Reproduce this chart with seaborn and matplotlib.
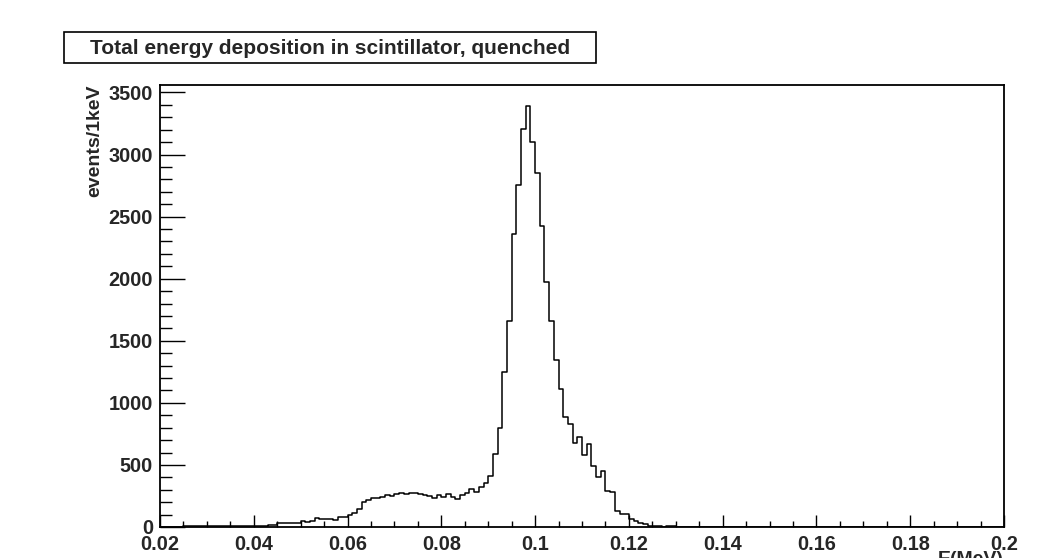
import numpy as np
import pandas as pd
import seaborn as sns
import matplotlib.pyplot as plt
from matplotlib.patches import Rectangle
from matplotlib.ticker import FixedLocator, MultipleLocator

# histogram: 1 keV bins from 0.020 to 0.200 MeV
e_low = 0.02
e_high = 0.2
bin_width = 0.001
counts = [
    2, 2, 2, 2, 2, 6, 6, 6, 6, 6, 6, 6, 10, 10, 10, 6, 6, 6, 8, 8,
    10, 10, 10, 13, 13, 30, 30, 35, 35, 35, 45, 43, 45, 70, 63, 68, 67, 53, 78, 78,
    97, 116, 142, 198, 217, 230, 232, 245, 258, 250, 268, 271, 268, 273, 276, 263, 261, 252, 236, 257,
    239, 265, 244, 223, 260, 276, 303, 284, 324, 356, 410, 585, 799, 1245, 1660, 2357, 2754, 3202, 3389, 3100,
    2853, 2421, 1971, 1660, 1343, 1110, 887, 826, 673, 721, 579, 665, 491, 400, 449, 287, 285, 131, 103, 101,
    68, 45, 35, 22, 10, 5, 6, 4, 11, 10, 3, 3, 2, 0, 0, 0, 0, 0, 0, 0,
    0, 0, 0, 0, 0, 0, 0, 0, 0, 0, 0, 0, 0, 0, 0, 0, 0, 0, 0, 0,
    0, 0, 0, 0, 0, 0, 0, 0, 0, 0, 0, 0, 0, 0, 0, 0, 0, 0, 0, 0,
    0, 0, 0, 0, 0, 0, 0, 0, 0, 0, 0, 0, 0, 0, 0, 0, 0, 0, 0, 0,
]
x_ticks = [0.02, 0.04, 0.06, 0.08, 0.1, 0.12, 0.14, 0.16, 0.18, 0.2]
x_ticklabels = ["0.02", "0.04", "0.06", "0.08", "0.1", "0.12", "0.14", "0.16", "0.18", "0.2"]
y_ticks = [0, 500, 1000, 1500, 2000, 2500, 3000, 3500]
y_ticklabels = ["0", "500", "1000", "1500", "2000", "2500", "3000", "3500"]
title = "Total energy deposition in scintillator, quenched"
xlabel = "E(MeV)"
ylabel = "events/1keV"

edges = np.arange(len(counts) + 1) * bin_width + e_low
df = pd.DataFrame({"E": edges[:-1] + bin_width / 2, "n": counts})

sns.set_theme(style="white")
plt.rcParams['font.family'] = ['Liberation Sans', 'DejaVu Sans']
plt.rcParams['font.weight'] = 'bold'

W, H = 1056, 558
fig = plt.figure(figsize=(W / 100, H / 100), dpi=100)
ax = fig.add_axes([160 / W, 31 / H, 844 / W, 442 / H])

# seaborn trips over a numpy array for bins, so hand it a list
sns.histplot(data=df, x="E", weights="n", bins=list(edges), element="step", fill=False,
             color="black", linewidth=1.1, ax=ax)

ax.set_xlim(e_low, e_high)
ax.set_ylim(0, 3560)
ax.set_xlabel("")
ax.set_ylabel("")

ax.xaxis.set_major_locator(FixedLocator(x_ticks))
ax.set_xticklabels(x_ticklabels, fontsize=14.3, fontweight="bold")
ax.xaxis.set_minor_locator(MultipleLocator(0.005))
ax.yaxis.set_major_locator(FixedLocator(y_ticks))
ax.set_yticklabels(y_ticklabels, fontsize=14.3, fontweight="bold")
ax.yaxis.set_minor_locator(MultipleLocator(100))

ax.tick_params(axis="x", which="major", direction="in", length=9, width=1, pad=6,
               bottom=True, top=False, color="black")
ax.tick_params(axis="x", which="minor", direction="in", length=4.5, width=1,
               bottom=True, top=False, color="black")
ax.tick_params(axis="y", which="major", direction="in", length=18, width=1, pad=5,
               left=True, right=False, color="black")
ax.tick_params(axis="y", which="minor", direction="in", length=8.5, width=1,
               left=True, right=False, color="black")

for _, spine in ax.spines.items():
    spine.set_visible(True)
    spine.set_linewidth(1.3)
    spine.set_edgecolor("black")

# title box, ROOT style
fig.patches.append(Rectangle((64 / W, 1 - 63 / H), 532 / W, 31 / H, transform=fig.transFigure,
                             facecolor="white", edgecolor="black", linewidth=1.2))
fig.text(330 / W, 1 - 48 / H, title, ha="center", va="center", fontsize=15, fontweight="bold")

fig.text(95 / W, 1 - 85 / H, ylabel, rotation=90, ha="center", va="top", fontsize=14, fontweight="bold")
fig.text(1004 / W, 1 - 551 / H, xlabel, ha="right", va="top", fontsize=14, fontweight="bold")

plt.savefig("out.png", dpi=100)
